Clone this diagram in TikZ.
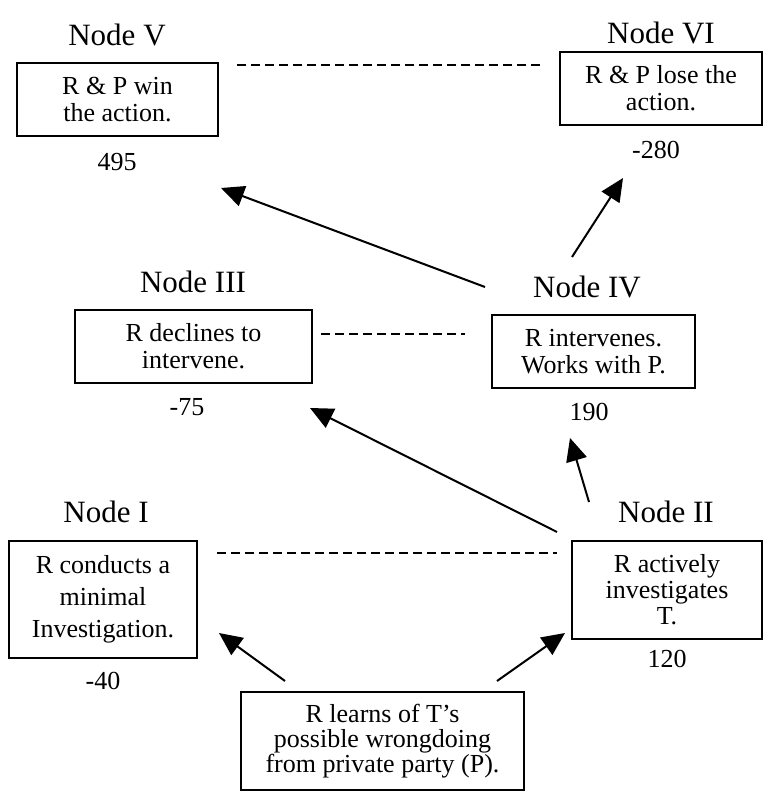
\documentclass[tikz,border=0pt]{standalone}
\usepackage{fontspec}
\setmainfont{Liberation Serif}
\usetikzlibrary{arrows.meta}
\begin{document}
\begin{tikzpicture}[x=1pt,y=-1pt,
  box/.style={draw,line width=1.4pt,align=center,inner sep=0pt,font=\fontsize{26}{27}\selectfont},
  ttl/.style={anchor=base,font=\fontsize{31}{31}\selectfont,inner sep=0pt},
  val/.style={anchor=base,font=\fontsize{26}{26}\selectfont,inner sep=0pt},
  arr/.style={line width=2pt,-{Triangle[length=23pt,width=21pt]}},
  dsh/.style={line width=1.3pt,dash pattern=on 9pt off 5pt}]
\useasboundingbox[fill=white] (0,0) rectangle (767,798);

% boxes
\node[box,minimum width=201pt,minimum height=73pt] (n5) at (117.5,99.5) {R \& P win\\the action.};
\node[box,minimum width=202pt,minimum height=73pt] (n6) at (661,88.5) {R \& P lose the\\action.};
\node[box,minimum width=237pt,minimum height=73pt] (n3) at (193.5,346.5) {R declines to\\intervene.};
\node[box,minimum width=203pt,minimum height=73pt] (n4) at (593.5,351.5) {R intervenes.\\Works with P.};
\node[box,minimum width=188pt,minimum height=117pt,font=\fontsize{26}{32}\selectfont] (n1) at (103,599.5) {R conducts a\\minimal\\Investigation.};
\node[box,minimum width=190pt,minimum height=98pt,font=\fontsize{26}{26}\selectfont] (n2) at (667,590) {R actively\\investigates\\T.};
\node[box,minimum width=283pt,minimum height=98pt,font=\fontsize{26}{25}\selectfont] (n0) at (382.5,741) {R learns of T’s\\possible wrongdoing\\from private party (P).};

% titles
\node[ttl] (t5) at (117,45) {Node V};
\node[ttl] (t6) at (661,43) {Node VI};
\node[ttl] (t3) at (193,292) {Node III};
\node[ttl] (t4) at (587,297) {Node IV};
\node[ttl] (t1) at (106,522) {Node I};
\node[ttl] (t2) at (666,522) {Node II};

% values
\node[val] (v5) at (117,170) {495};
\node[val] (v6) at (656,158) {-280};
\node[val] (v3) at (187,415) {-75};
\node[val] (v4) at (589,420) {190};
\node[val] (v1) at (103,689) {-40};
\node[val] (v2) at (667,667) {120};

% dashed links
\coordinate (d56a) at (237,65);  \coordinate (d56b) at (543,65);
\coordinate (d34a) at (321,334); \coordinate (d34b) at (465,334);
\coordinate (d12a) at (217,553); \coordinate (d12b) at (557,553);
\draw[dsh] (d56a) -- (d56b);
\draw[dsh] (d34a) -- (d34b);
\draw[dsh] (d12a) -- (d12b);

% arrows
\coordinate (a1s) at (285,681); \coordinate (a1e) at (219,633);
\coordinate (a2s) at (497,681); \coordinate (a2e) at (565,633);
\coordinate (a3s) at (557,532); \coordinate (a3e) at (310,408);
\coordinate (a4s) at (589,502); \coordinate (a4e) at (570,438);
\coordinate (a5s) at (485,287); \coordinate (a5e) at (221,188);
\coordinate (a6s) at (572,257); \coordinate (a6e) at (623,178);
\draw[arr] (a1s) -- (a1e);
\draw[arr] (a2s) -- (a2e);
\draw[arr] (a3s) -- (a3e);
\draw[arr] (a4s) -- (a4e);
\draw[arr] (a5s) -- (a5e);
\draw[arr] (a6s) -- (a6e);
\end{tikzpicture}
\end{document}
